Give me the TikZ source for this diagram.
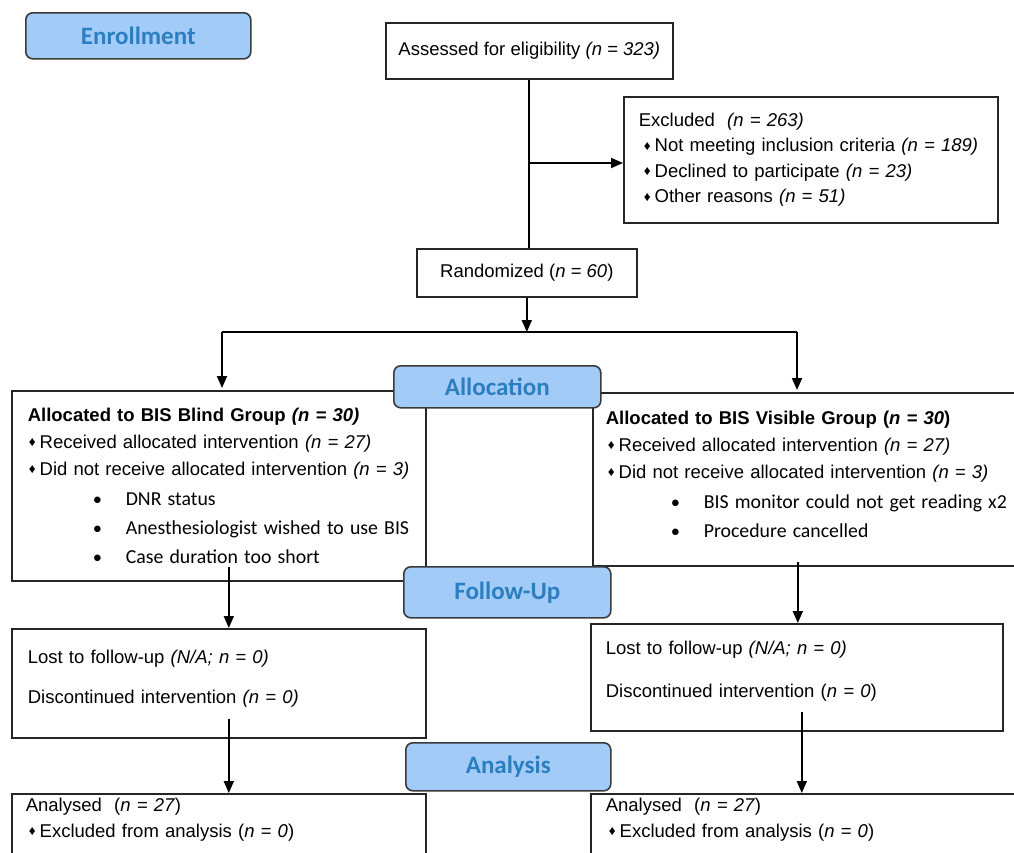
\documentclass[tikz,border=0pt]{standalone}
\usepackage{fontspec}
\setmainfont{Liberation Sans}
\newfontfamily\cbr{Carlito}
\usetikzlibrary{arrows.meta, positioning}
\definecolor{stagefill}{HTML}{A3CBF8}
\definecolor{stagetext}{HTML}{2B7FC0}
\definecolor{stageline}{HTML}{3A3A3A}
\newcommand{\dmd}{{\fontsize{13.5}{13.5}\selectfont\raisebox{1.5pt}{♦}}\hspace{4pt}}
\newcommand{\subpt}[1]{\hspace*{65pt}\makebox[33pt][l]{\cbr •}{\cbr\fontsize{19.8}{19.8}\selectfont #1}}

\begin{document}
\begin{tikzpicture}[
    x=1pt, y=-1pt,
    >={Triangle[length=12pt, width=10pt]},
    every node/.style={font=\fontsize{18.5}{25.5}\selectfont},
    box/.style  ={draw=black!85, line width=1.6pt, anchor=north west,
                  align=left, inner ysep=0pt},
    cbox/.style ={draw=black!85, line width=1.6pt, anchor=north west,
                  align=center, inner sep=0pt},
    stage/.style={draw=stageline, fill=stagefill, line width=1.6pt,
                  rounded corners=7pt, anchor=north west, inner sep=0pt,
                  text=stagetext, font=\cbr\bfseries\fontsize{25}{25}\selectfont},
    flow/.style ={->, line width=1.8pt},
]
\clip (0,0) rectangle (1014,852);

% enrollment
\node[cbox, minimum width=287pt, minimum height=56pt] (assess) at (385,22)
     {Assessed for eligibility \textit{(n = 323)}};
\node[box, text width=344pt, inner xsep=15pt, minimum height=126pt] (excl) at (623,96)
     {Excluded \ \textit{(n = 263)}\\
      \hspace*{5pt}\dmd Not meeting inclusion criteria \textit{(n = 189)}\\
      \hspace*{5pt}\dmd Declined to participate \textit{(n = 23)}\\
      \hspace*{5pt}\dmd Other reasons \textit{(n = 51)}};
\node[cbox, minimum width=220pt, minimum height=48pt] (rand) at (416,248)
     {Randomized (\textit{n = 60})};

% allocation
\node[box, text width=382pt, inner xsep=16pt, minimum height=190pt,
      font=\fontsize{18.5}{27}\selectfont] (lallo) at (11,390)
     {\textbf{Allocated to BIS Blind Group \textit{(n = 30)}}\\
      \hspace*{1pt}\dmd Received allocated intervention \textit{(n = 27)}\\
      \hspace*{1pt}\dmd Did not receive allocated intervention \textit{(n = 3)}\\[3pt]
      \subpt{DNR status}\\[2pt]
      \subpt{Anesthesiologist wished to use BIS}\\[2pt]
      \subpt{Case duration too short}};
\node[box, text width=404pt, inner xsep=13pt, minimum height=173pt,
      font=\fontsize{18.5}{27}\selectfont] (rallo) at (592,392)
     {\textbf{Allocated to BIS Visible Group (\textit{n = 30})}\\
      \hspace*{2pt}\dmd Received allocated intervention \textit{(n = 27)}\\
      \hspace*{2pt}\dmd Did not receive allocated intervention \textit{(n = 3)}\\[3pt]
      \subpt{BIS monitor could not get reading x2}\\[2pt]
      \subpt{Procedure cancelled}\\[-16pt]\mbox{}};

% follow-up
\node[box, text width=382pt, inner xsep=16pt, minimum height=109pt] (lfu) at (11,628)
     {Lost to follow-up \textit{(N/A; n = 0)}\\[14.5pt]
      Discontinued intervention \textit{(n = 0)}\\[-12pt]\mbox{}};
\node[box, text width=382pt, inner xsep=15pt, minimum height=107pt] (rfu) at (590,623)
     {Lost to follow-up \textit{(N/A; n = 0)}\\[17.5pt]
      Discontinued intervention (\textit{n = 0})\\[-10pt]\mbox{}};

% analysis
\node[box, text width=386pt, inner xsep=14pt, inner ysep=6pt,
      text height=12pt, text depth=80pt] (lana) at (11,793)
     {Analysed \ (\textit{n = 27})\\[0pt]
      \hspace*{3pt}\dmd Excluded from analysis (\textit{n = 0})};
\node[box, text width=400pt, inner xsep=15pt, inner ysep=6pt,
      text height=12pt, text depth=80pt] (rana) at (590,793)
     {Analysed \ (\textit{n = 27})\\[0pt]
      \hspace*{3pt}\dmd Excluded from analysis (\textit{n = 0})};

% connectors
\coordinate (sl) at (222,332);
\coordinate (sr) at (797,332);
\draw[line width=1.8pt] (assess.south) -- (assess.south |- rand.north);
\draw[flow] (assess.south |- 0,163) -- (excl.west |- 0,163);
\draw[flow] (rand.south) -- (rand.south |- sl);
\draw[line width=1.8pt] (sl) -- (sr);
\draw[flow] (sl) -- ([yshift=2pt]sl |- lallo.north);
\draw[flow] (sr) -- ([yshift=2pt]sr |- rallo.north);
\draw[flow] ([shift={(10,-15)}]lallo.south) -- ([shift={(10,0)}]lallo.south |- lfu.north);
\draw[flow] ([shift={(-10,-5)}]rallo.south) -- ([shift={(-10,0)}]rallo.south |- rfu.north);
\draw[flow] ([shift={(10,-20)}]lfu.south) -- ([shift={(10,0)}]lfu.south |- lana.north);
\draw[flow] ([shift={(5,-20)}]rfu.south) -- ([shift={(5,0)}]rfu.south |- rana.north);

% stage labels
\node[stage, minimum width=225pt, minimum height=46pt] (enrol) at (25,12) {Enrollment};
\node[stage, minimum width=207pt, minimum height=42pt] (alloc) at (393,365) {Allocation};
\node[stage, minimum width=207pt, minimum height=51pt] (follow) at (403,566) {Follow-Up};
\node[stage, minimum width=205pt, minimum height=48pt] (anal) at (405,742) {Analysis};
\end{tikzpicture}
\end{document}
